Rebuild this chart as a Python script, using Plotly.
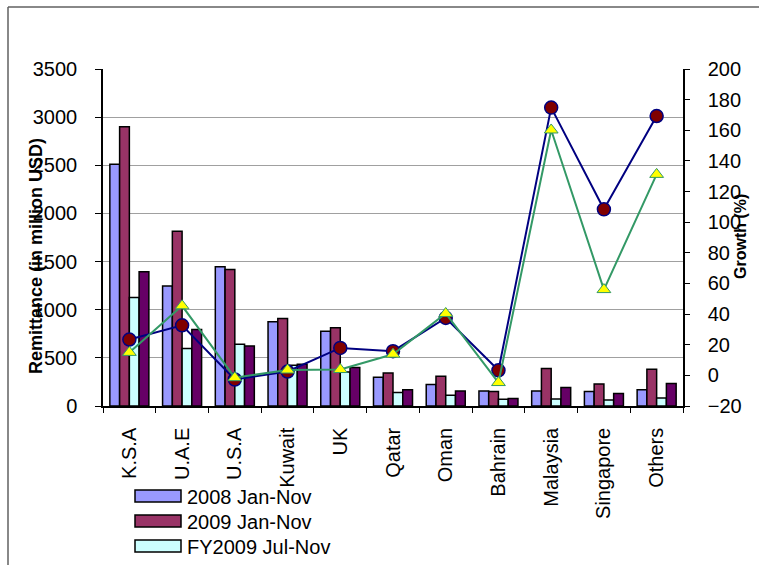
import plotly.graph_objects as go

# Remittance by source country (million USD) and growth rates (%)
countries = ["K.S.A", "U.A.E", "U.S.A", "Kuwait", "UK", "Qatar", "Oman",
             "Bahrain", "Malaysia", "Singapore", "Others"]
jan_nov_2008 = [2510, 1247, 1445, 876, 776, 298, 222, 156, 156, 150, 170]
jan_nov_2009 = [2900, 1816, 1418, 910, 812, 343, 309, 150, 389, 229, 381]
fy2009_jul_nov = [1127, 597, 641, 423, 353, 139, 111, 70, 73, 62, 83]
fy2010_jul_nov = [1393, 794, 624, 433, 399, 170, 156, 78, 191, 129, 233]
growth_fiscal = [23.4, 32.7, -2.7, 2.5, 17.9, 15.8, 37.5, 3.3, 174.8, 108.4, 169.3]
growth_calendar = [15.0, 45.4, -1.5, 3.5, 3.8, 13.8, 40.4, -4.7, 160.2, 56.0, 131.2]

FONT = "Liberation Sans, Arial, sans-serif"
W, H = 759, 565
ML, MR, MT, MB = 103, 76, 69, 159
PW, PH = W - ML - MR, H - MT - MB


def px_x(x):
    return (x - ML) / PW


def px_y(y):
    return (H - MB - y) / PH


fig = go.Figure()

bar_series = [
    ("2008 Jan-Nov", jan_nov_2008, "#9999FF", True),
    ("2009 Jan-Nov", jan_nov_2009, "#993366", True),
    ("FY2009 Jul-Nov", fy2009_jul_nov, "#CCFFFF", True),
    ("FY2010 Jul-Nov", fy2010_jul_nov, "#660066", False),
]
for name, vals, color, show in bar_series:
    fig.add_trace(go.Bar(
        x=countries, y=vals, name=name, showlegend=False,
        marker=dict(color=color, line=dict(color="black", width=1.5)),
    ))

fig.add_trace(go.Scatter(
    x=countries, y=growth_fiscal, yaxis="y2", mode="lines+markers",
    name="Growth FY", showlegend=False,
    line=dict(color="#000080", width=2),
    marker=dict(symbol="circle", size=13, color="#800000",
                line=dict(color="#000080", width=1.5)),
))
fig.add_trace(go.Scatter(
    x=countries, y=growth_calendar, yaxis="y2", mode="lines+markers",
    name="Growth CY", showlegend=False,
    line=dict(color="#339966", width=2),
    marker=dict(symbol="triangle-up", size=12, color="#FFFF00",
                line=dict(color="#339966", width=1)),
))

tick_font = dict(family=FONT, size=20, color="black")

# legend: wide swatch boxes with labels, stacked under the axis
shapes = []
annotations = []
row_y = [496, 521, 546]
legend_items = [(n, c) for n, _, c, show in bar_series if show]
for (name, color), yc in zip(legend_items, row_y):
    shapes.append(dict(type="rect", xref="paper", yref="paper",
                       x0=px_x(135), x1=px_x(181), y0=px_y(yc - 6), y1=px_y(yc + 6),
                       fillcolor=color, line=dict(color="black", width=1.5)))
    annotations.append(dict(text=name, xref="paper", yref="paper",
                            x=px_x(185), y=px_y(yc + 1), xanchor="left", yanchor="middle",
                            showarrow=False,
                            font=dict(family=FONT, size=20, color="black")))

# outer chart frame (top and left edges)
shapes += [
    dict(type="line", xref="paper", yref="paper",
         x0=px_x(8), x1=px_x(W), y0=px_y(7), y1=px_y(7),
         line=dict(color="#606060", width=1.5)),
    dict(type="line", xref="paper", yref="paper",
         x0=px_x(8), x1=px_x(8), y0=px_y(7), y1=px_y(H),
         line=dict(color="#606060", width=1.5)),
]

annotations += [
    dict(text="<b>Remittance (in million USD)</b>", textangle=-90,
         xref="paper", yref="paper", x=px_x(36), y=px_y(256),
         xanchor="center", yanchor="middle", showarrow=False,
         font=dict(family=FONT, size=18, color="black")),
    dict(text="<b>Growth (%)</b>", textangle=-90,
         xref="paper", yref="paper", x=px_x(740), y=px_y(237),
         xanchor="center", yanchor="middle", showarrow=False,
         font=dict(family=FONT, size=16, color="black")),
]

fig.update_layout(
    width=W, height=H,
    margin=dict(l=ML, r=MR, t=MT, b=MB, pad=0, autoexpand=False),
    paper_bgcolor="white", plot_bgcolor="white",
    barmode="group", bargap=0.26, bargroupgap=0,
    font=dict(family=FONT, color="black"),
    showlegend=False,
    xaxis=dict(
        type="category", range=[-0.5, len(countries) - 0.5],
        tickangle=-90, tickfont=tick_font, automargin=False,
        showline=True, linecolor="black", linewidth=1.5,
        ticks="outside", tickson="boundaries", ticklen=5, tickcolor="black",
        ticklabelstandoff=12, showgrid=False,
    ),
    yaxis=dict(
        range=[0, 3500], dtick=500, tickfont=tick_font, automargin=False,
        showline=True, linecolor="black", linewidth=1.5,
        ticks="outside", ticklen=6, tickcolor="black", ticklabelstandoff=14,
        showgrid=True, gridcolor="#A0A0A0", gridwidth=1, zeroline=False,
    ),
    yaxis2=dict(
        range=[-20, 200], dtick=20, tickfont=tick_font, automargin=False,
        overlaying="y", side="right",
        showline=True, linecolor="black", linewidth=1.5,
        ticks="outside", ticklen=5, tickcolor="black", ticklabelstandoff=14,
        showgrid=False, zeroline=False,
    ),
    shapes=shapes,
    annotations=annotations,
)

fig.write_html("out.html")
